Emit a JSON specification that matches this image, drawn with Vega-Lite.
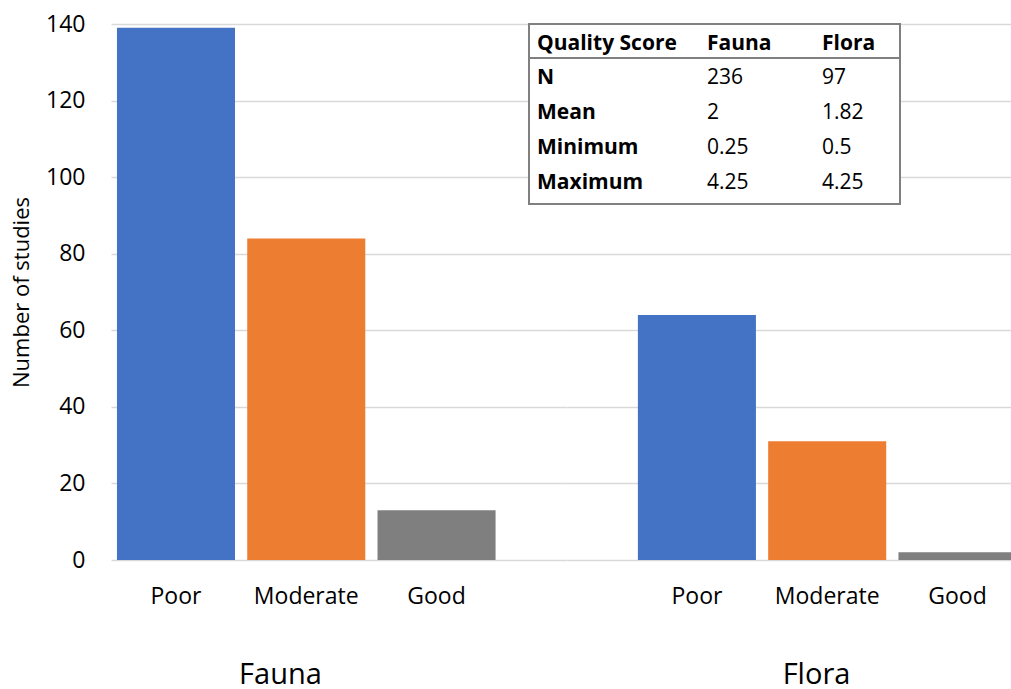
{
  "$schema": "https://vega.github.io/schema/vega-lite/v6.json",
  "autosize": {"type": "pad"},
  "padding": {"left": 10, "top": 13, "right": 0, "bottom": 0},
  "background": "white",
  "spacing": 0,
  "bounds": "flush",
  "config": {
    "font": "Open Sans",
    "view": {"stroke": null},
    "axis": {
      "labelFont": "Open Sans",
      "titleFont": "Open Sans",
      "labelColor": "#000000",
      "titleColor": "#000000",
      "gridColor": "#d9d9d9",
      "gridWidth": 1.5,
      "ticks": false,
      "domain": false
    }
  },
  "datasets": {
    "counts": [
      {"taxon": "Fauna", "quality": "Poor", "studies": 139},
      {"taxon": "Fauna", "quality": "Moderate", "studies": 84},
      {"taxon": "Fauna", "quality": "Good", "studies": 13},
      {"taxon": "Flora", "quality": "Poor", "studies": 64},
      {"taxon": "Flora", "quality": "Moderate", "studies": 31},
      {"taxon": "Flora", "quality": "Good", "studies": 2}
    ],
    "summary": [
      {"row": 0, "col": 0, "text": "Quality Score"},
      {"row": 0, "col": 1, "text": "Fauna"},
      {"row": 0, "col": 2, "text": "Flora"},
      {"row": 1, "col": 0, "text": "N"},
      {"row": 1, "col": 1, "text": "236"},
      {"row": 1, "col": 2, "text": "97"},
      {"row": 2, "col": 0, "text": "Mean"},
      {"row": 2, "col": 1, "text": "2"},
      {"row": 2, "col": 2, "text": "1.82"},
      {"row": 3, "col": 0, "text": "Minimum"},
      {"row": 3, "col": 1, "text": "0.25"},
      {"row": 3, "col": 2, "text": "0.5"},
      {"row": 4, "col": 0, "text": "Maximum"},
      {"row": 4, "col": 1, "text": "4.25"},
      {"row": 4, "col": 2, "text": "4.25"}
    ],
    "frame": [
      {"col": 0, "col_end": 3, "row": 0, "row_end": 5}
    ]
  },
  "resolve": {"scale": {"x": "independent", "y": "independent"}},
  "hconcat": [
    {
      "width": 456,
      "height": 536,
      "data": {"name": "counts"},
      "transform": [{"filter": "datum.taxon === 'Fauna'"}],
      "mark": {"type": "bar"},
      "encoding": {
        "x": {
          "field": "quality",
          "type": "nominal",
          "sort": ["Poor", "Moderate", "Good"],
          "scale": {"paddingInner": 0.094, "paddingOuter": 0.297, "align": 0.077},
          "axis": {
            "title": "Fauna",
            "titleFontSize": 29,
            "titleFontWeight": "normal",
            "titleX": 169,
            "titleY": 123,
            "titleAlign": "center",
            "titleBaseline": "alphabetic",
            "labelAngle": 0,
            "labelFontSize": 23,
            "labelBaseline": "alphabetic",
            "labelPadding": 43,
            "grid": false
          }
        },
        "y": {
          "field": "studies",
          "type": "quantitative",
          "scale": {"domain": [0, 140], "nice": false},
          "axis": {
            "values": [0, 20, 40, 60, 80, 100, 120, 140],
            "title": "Number of studies",
            "titleFontSize": 22,
            "titleFontWeight": "normal",
            "titlePadding": 12,
            "labelFontSize": 23,
            "labelPadding": 26
          }
        },
        "color": {
          "field": "quality",
          "type": "nominal",
          "scale": {"domain": ["Poor", "Moderate", "Good"], "range": ["#4472c4", "#ed7d31", "#7f7f7f"]},
          "legend": null
        }
      }
    },
    {
      "width": 456,
      "height": 536,
      "resolve": {"scale": {"x": "independent", "y": "independent"}},
      "layer": [
        {
          "data": {"name": "counts"},
          "transform": [{"filter": "datum.taxon === 'Flora'"}],
          "mark": {"type": "bar"},
          "encoding": {
            "x": {
              "field": "quality",
              "type": "nominal",
              "sort": ["Poor", "Moderate", "Good"],
              "scale": {"paddingInner": 0.094, "paddingOuter": 0.297, "align": 0.916},
              "axis": {
                "title": "Flora",
                "titleFontSize": 29,
                "titleFontWeight": "normal",
                "titleX": 249,
                "titleY": 123,
                "titleAlign": "center",
                "titleBaseline": "alphabetic",
                "labelAngle": 0,
                "labelFontSize": 23,
                "labelBaseline": "alphabetic",
                "labelPadding": 43,
                "grid": false
              }
            },
            "y": {
              "field": "studies",
              "type": "quantitative",
              "scale": {"domain": [0, 140], "nice": false},
              "axis": {
                "values": [0, 20, 40, 60, 80, 100, 120, 140],
                "title": null,
                "labels": false
              }
            },
            "color": {
              "field": "quality",
              "type": "nominal",
              "scale": {"domain": ["Poor", "Moderate", "Good"], "range": ["#4472c4", "#ed7d31", "#7f7f7f"]},
              "legend": null
            }
          }
        },
        {
          "layer": [
            {
              "data": {"name": "frame"},
              "mark": {"type": "rect", "fill": "white", "stroke": "#808080", "strokeWidth": 2},
              "encoding": {
                "x": {"field": "col", "type": "quantitative", "scale": {"domain": [0, 1, 2, 3], "range": [-38, 132, 247, 333], "nice": false, "zero": false}, "axis": null},
                "x2": {"field": "col_end"},
                "y": {"field": "row", "type": "quantitative", "scale": {"domain": [0, 1, 4, 5], "range": [0, 34, 139, 180], "nice": false, "zero": false}, "axis": null},
                "y2": {"field": "row_end"}
              }
            },
            {
              "data": {"name": "frame"},
              "mark": {"type": "rule", "stroke": "#808080", "strokeWidth": 2, "yOffset": 34},
              "encoding": {
                "x": {"field": "col", "type": "quantitative", "axis": null},
                "x2": {"field": "col_end"},
                "y": {"field": "row", "type": "quantitative", "axis": null}
              }
            },
            {
              "data": {"name": "summary"},
              "transform": [{"filter": "datum.row === 0 || datum.col === 0"}],
              "mark": {"type": "text", "align": "left", "baseline": "alphabetic", "dx": 8, "dy": 26, "fontSize": 21, "font": "Open Sans", "fontWeight": "bold", "color": "#000000"},
              "encoding": {
                "x": {"field": "col", "type": "quantitative", "axis": null},
                "y": {"field": "row", "type": "quantitative", "axis": null},
                "text": {"field": "text", "type": "nominal"}
              }
            },
            {
              "data": {"name": "summary"},
              "transform": [{"filter": "datum.row > 0 && datum.col > 0"}],
              "mark": {"type": "text", "align": "left", "baseline": "alphabetic", "dx": 8, "dy": 26, "fontSize": 21, "font": "Open Sans", "fontWeight": "normal", "color": "#000000"},
              "encoding": {
                "x": {"field": "col", "type": "quantitative", "axis": null},
                "y": {"field": "row", "type": "quantitative", "axis": null},
                "text": {"field": "text", "type": "nominal"}
              }
            }
          ]
        }
      ]
    }
  ]
}
